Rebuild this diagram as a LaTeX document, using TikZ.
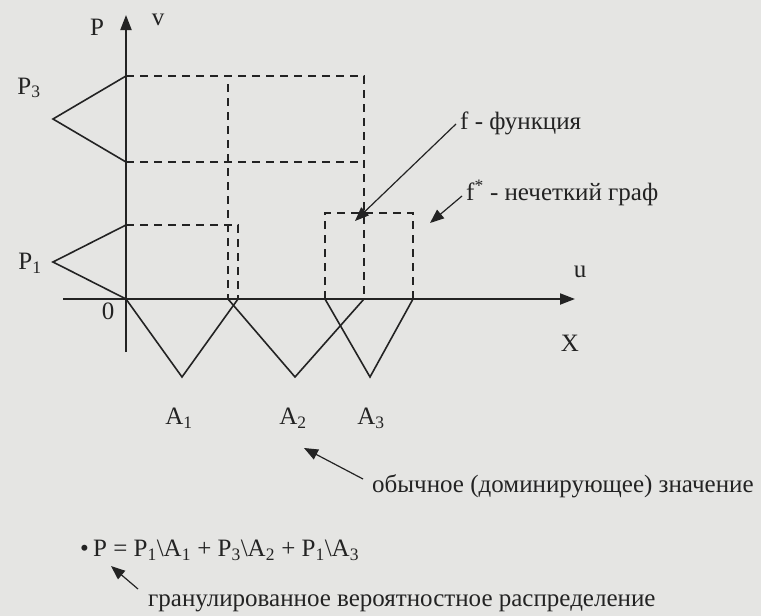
\documentclass[tikz,border=0pt]{standalone}
\usepackage{fontspec}
\setmainfont{Liberation Serif}
\usetikzlibrary{arrows.meta}
\definecolor{bgc}{RGB}{229,229,227}
\definecolor{ink}{RGB}{35,35,35}
\begin{document}
\begin{tikzpicture}[x=1pt,y=-1pt,
  font=\fontsize{25}{29}\selectfont,
  lbl/.style={inner sep=0pt, text=ink},
  axisline/.style={draw=ink, line width=2pt},
  curve/.style={draw=ink, line width=1.6pt},
  guide/.style={draw=ink, line width=1.6pt, dash pattern=on 8pt off 6pt},
  pointer/.style={draw=ink, line width=1.2pt, -{Triangle[length=14pt,width=11pt]}},
  axtip/.style={-{Triangle[length=15pt,width=11pt]}}]
\fill[bgc] (0,0) rectangle (761,616);
\useasboundingbox (0,0) rectangle (761,616);

% key points
\coordinate (O) at (126,299);
\coordinate (ytop) at (126,15);
\coordinate (ybot) at (126,352);
\coordinate (xleft) at (63,299);
\coordinate (xright) at (575,299);
\coordinate (p3a) at (126,76);
\coordinate (p3v) at (53,119);
\coordinate (p3b) at (126,162);
\coordinate (p1a) at (126,225);
\coordinate (p1v) at (53,262);
\coordinate (a1v) at (182,377);
\coordinate (u238) at (238,299);
\coordinate (u228) at (228,299);
\coordinate (a2v) at (295,377);
\coordinate (u364) at (364,299);
\coordinate (u325) at (325,299);
\coordinate (a3v) at (370,377);
\coordinate (u413) at (413,299);

% dashed guides
\draw[guide] (p3a) -- (364,76) -- (u364);
\draw[guide] (p3b) -- (364,162);
\draw[guide] (228,84) -- (u228);
\draw[guide] (p1a) -- (238,225) -- (u238);
\draw[guide] (u325) -- (325,213) -- (413,213) -- (u413);

% axes
\draw[axisline, axtip] (ybot) -- (ytop);
\draw[axisline, axtip] (xleft) -- (xright);

% membership triangles
\draw[curve] (p3a) -- (p3v) -- (p3b);
\draw[curve] (p1a) -- (p1v) -- (O);
\draw[curve] (O) -- (a1v) -- (u238);
\draw[curve] (u228) -- (a2v) -- (u364);
\draw[curve] (u325) -- (a3v) -- (u413);

% axis labels
\node[lbl] (lP) at (97,27) {P};
\node[lbl] (lv) at (158,20) {v};
\node[lbl] (lP3) at (29,88) {P\textsubscript{3}};
\node[lbl] (lP1) at (30,263) {P\textsubscript{1}};
\node[lbl] (l0) at (108,311) {0};
\node[lbl] (lu) at (580,272) {u};
\node[lbl] (lX) at (570,343) {X};
\node[lbl] (lA1) at (179,418) {A\textsubscript{1}};
\node[lbl] (lA2) at (293,418) {A\textsubscript{2}};
\node[lbl] (lA3) at (371,418) {A\textsubscript{3}};

% annotations
\node[lbl, anchor=west] (tf) at (460,123) {f - функция};
\node[lbl, anchor=west] (tfs) at (466,193) {f\textsuperscript{*} - нечеткий граф};
\node[lbl, anchor=west] (tob) at (372,486) {обычное (доминирующее) значение};
\node[lbl, anchor=west] (tform) at (80,550) {\textbullet\,P = P\textsubscript{1}\textbackslash A\textsubscript{1} + P\textsubscript{3}\textbackslash A\textsubscript{2} + P\textsubscript{1}\textbackslash A\textsubscript{3}};
\node[lbl, anchor=west] (tgr) at (148,603) {гранулированное вероятностное распределение};

\coordinate (fend) at (355,221);
\coordinate (fsend) at (430,223);
\coordinate (a2end) at (304,448);
\coordinate (pend) at (111,566);

\draw[pointer] (456,124) -- (fend);
\draw[pointer] (462,196) -- (fsend);
\draw[pointer] (363,479) -- (a2end);
\draw[pointer] (138,589) -- (pend);
\end{tikzpicture}
\end{document}
